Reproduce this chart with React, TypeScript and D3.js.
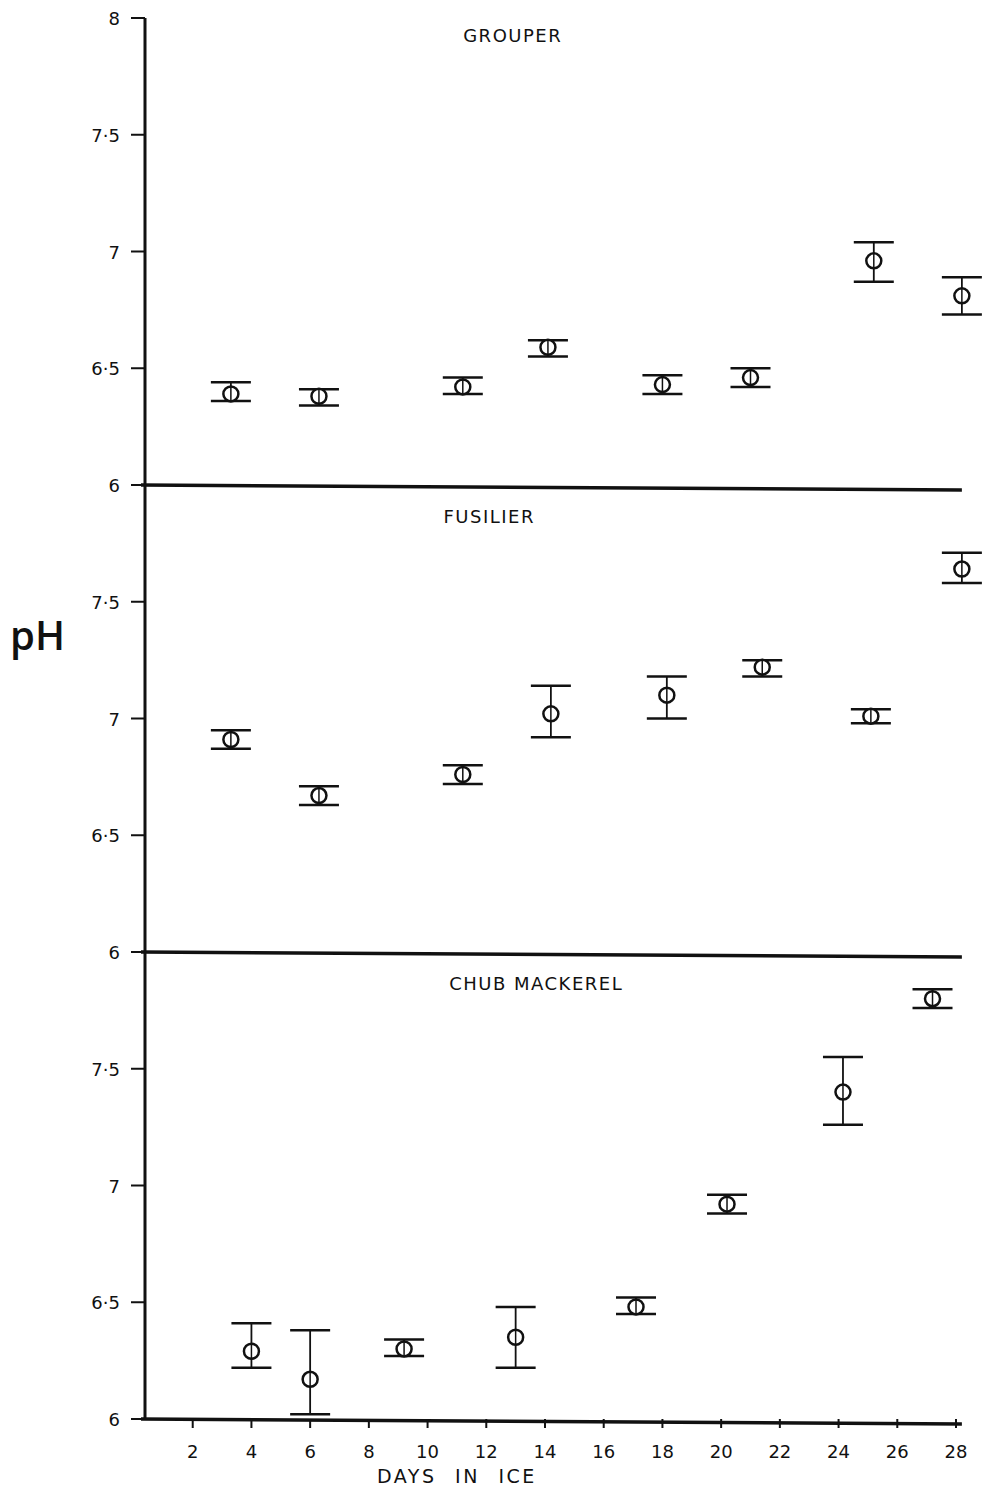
import * as d3 from "d3"

const panels = ["GROUPER", "FUSILIER", "CHUB MACKEREL"]
const panelTitleDay = [12.9, 12.1, 13.7]

const grouperDays = [3.3, 6.3, 11.2, 14.1, 18.0, 21.0, 25.2, 28.2]
const grouperMean = [6.39, 6.38, 6.42, 6.59, 6.43, 6.46, 6.96, 6.81]
const grouperLow = [6.36, 6.34, 6.39, 6.55, 6.39, 6.42, 6.87, 6.73]
const grouperHigh = [6.44, 6.41, 6.46, 6.62, 6.47, 6.5, 7.04, 6.89]

const fusilierDays = [3.3, 6.3, 11.2, 14.2, 18.15, 21.4, 25.1, 28.2]
const fusilierMean = [6.91, 6.67, 6.76, 7.02, 7.1, 7.22, 7.01, 7.64]
const fusilierLow = [6.87, 6.63, 6.72, 6.92, 7.0, 7.18, 6.98, 7.58]
const fusilierHigh = [6.95, 6.71, 6.8, 7.14, 7.18, 7.25, 7.04, 7.71]

const chubDays = [4.0, 6.0, 9.2, 13.0, 17.1, 20.2, 24.15, 27.2]
const chubMean = [6.29, 6.17, 6.3, 6.35, 6.48, 6.92, 7.4, 7.8]
const chubLow = [6.22, 6.02, 6.27, 6.22, 6.45, 6.88, 7.26, 7.76]
const chubHigh = [6.41, 6.38, 6.34, 6.48, 6.52, 6.96, 7.55, 7.84]

const seriesDays = [grouperDays, fusilierDays, chubDays]
const seriesMean = [grouperMean, fusilierMean, chubMean]
const seriesLow = [grouperLow, fusilierLow, chubLow]
const seriesHigh = [grouperHigh, fusilierHigh, chubHigh]

const yTicks = [8, 7.5, 7, 6.5, 6]
const yTickLabels = ["8", "7·5", "7", "6·5", "6"]
const xTicks = [2, 4, 6, 8, 10, 12, 14, 16, 18, 20, 22, 24, 26, 28]

const W = 986
const H = 1492
const axisX = 145
const panelTop = 18
const panelH = 467
const font = "'DejaVu Sans', 'Open Sans', sans-serif"

const x = d3.scaleLinear().domain([0, 28]).range([134, 956])

const App = () => {
  const bottom = panelTop + panelH * 3
  return (
    <svg
      width={W}
      height={H}
      style={{position: "absolute", left: 0, top: 0, display: "block", background: "#fff"}}
    >
      <g fontFamily={font} fill="#111">
        {/* vertical axis */}
        <line x1={axisX} x2={axisX} y1={panelTop} y2={bottom} stroke="#111" strokeWidth={3} />
        <text x={10} y={650} fontSize={40} fontWeight={600} fontFamily="'Open Sans', sans-serif">pH</text>

        {panels.map((name, p) => {
          const top = panelTop + panelH * p
          const y = d3.scaleLinear().domain([6, 8]).range([top + panelH, top])
          const days = seriesDays[p]
          return (
            <g key={name}>
              <text x={x(panelTitleDay[p])} y={top + 24 + (p > 0 ? 14 : 0)} fontSize={18} textAnchor="middle" letterSpacing={1.5}>
                {name}
              </text>
              {yTicks.map((t, i) =>
                p > 0 && i === 0 ? null : (
                  <g key={t}>
                    <line x1={axisX - 14} x2={axisX} y1={y(t)} y2={y(t)} stroke="#111" strokeWidth={2} />
                    <text x={axisX - 25} y={y(t) + 7} fontSize={18} textAnchor="end">
                      {yTickLabels[i]}
                    </text>
                  </g>
                )
              )}
              {/* baseline / separator */}
              <line
                x1={axisX - 4}
                x2={x(28.2)}
                y1={y(6)}
                y2={y(6) + 5}
                stroke="#111"
                strokeWidth={3.5}
              />
              {days.map((d, i) => {
                const cx = x(d)
                const yLo = y(seriesLow[p][i])
                const yHi = y(seriesHigh[p][i])
                const cy = y(seriesMean[p][i])
                return (
                  <g key={i} stroke="#111" fill="none">
                    <line x1={cx} x2={cx} y1={yHi} y2={yLo} strokeWidth={1.8} />
                    <line x1={cx - 20} x2={cx + 20} y1={yHi} y2={yHi} strokeWidth={2.5} />
                    <line x1={cx - 20} x2={cx + 20} y1={yLo} y2={yLo} strokeWidth={2.5} />
                    <circle cx={cx} cy={cy} r={7.5} strokeWidth={2.5} fill="#fff" />
                    <line x1={cx} x2={cx} y1={cy - 7} y2={cy + 7} strokeWidth={1.5} />
                  </g>
                )
              })}
            </g>
          )
        })}

        {/* x ticks */}
        {xTicks.map((t) => (
          <g key={t}>
            <line x1={x(t)} x2={x(t)} y1={bottom} y2={bottom + 9} stroke="#111" strokeWidth={2} />
            <text x={x(t)} y={bottom + 39} fontSize={18} textAnchor="middle">
              {t}
            </text>
          </g>
        ))}
        <text x={x(11)} y={bottom + 64} fontSize={19} textAnchor="middle" letterSpacing={2.5} wordSpacing={10}>
          DAYS IN ICE
        </text>
      </g>
    </svg>
  )
}

export default App
